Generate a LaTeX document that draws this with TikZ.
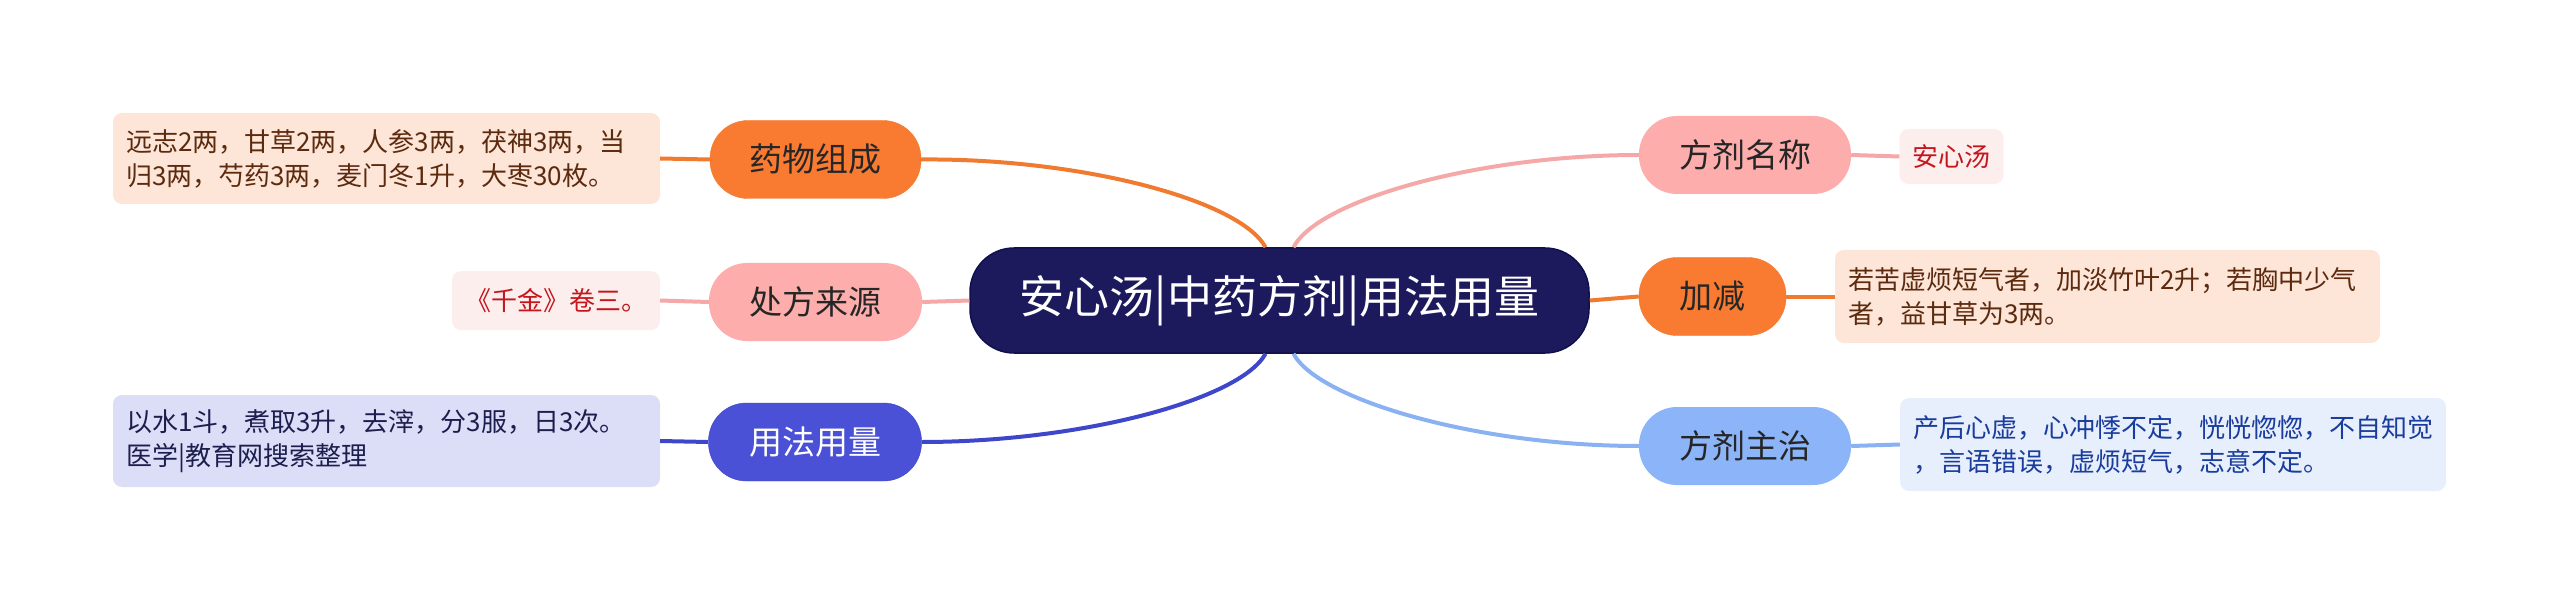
\documentclass[tikz,border=0pt]{standalone}
\usepackage{fontspec}
\setmainfont{Noto Sans CJK SC}

\definecolor{rootfill}{HTML}{1C1A5C}
\definecolor{rootline}{HTML}{10104A}
\definecolor{orangefill}{HTML}{F97B32}
\definecolor{pinkfill}{HTML}{FDAEAC}
\definecolor{bluefill}{HTML}{4A51D6}
\definecolor{skyfill}{HTML}{8CB4F8}
\definecolor{orangeleaf}{HTML}{FDE5D8}
\definecolor{pinkleaf}{HTML}{FDEEEE}
\definecolor{blueleaf}{HTML}{DCDDF7}
\definecolor{skyleaf}{HTML}{E7EFFD}
\definecolor{orangetext}{HTML}{5C2A0E}
\definecolor{pinktext}{HTML}{C4161C}
\definecolor{bluetext}{HTML}{1E1E4E}
\definecolor{skytext}{HTML}{1A3C9C}
\definecolor{orangelink}{HTML}{F07A30}
\definecolor{pinklink}{HTML}{F4A8A7}
\definecolor{bluelink}{HTML}{3E46C9}
\definecolor{skylink}{HTML}{8AB2F2}

\begin{document}
\begin{tikzpicture}[x=1pt, y=-1pt,
    root/.style={fill=rootfill, draw=rootline, line width=1.5pt, rounded corners=44pt,
      minimum width=619pt, minimum height=105pt, inner sep=0pt, text=white,
      font=\fontsize{45}{50}\selectfont},
    topic/.style={rounded corners=38pt, minimum height=78pt, inner sep=0pt,
      text=black!85, font=\fontsize{33}{38}\selectfont},
    leaf/.style={rounded corners=9pt, align=left, inner xsep=13pt, inner ysep=0pt,
      font=\fontsize{26}{34}\selectfont},
    link/.style={line width=4pt}]
    \useasboundingbox (0,0) rectangle (2560,604);

    \node[root] (root) at (1279.5,300.5) {安心汤|中药方剂|用法用量};

    \node[topic, fill=orangefill, draw=orangelink, minimum width=211pt] (zucheng) at (815.5,159.5) {药物组成};
    \node[topic, fill=pinkfill, minimum width=213pt] (laiyuan) at (815.5,302) {处方来源};
    \node[topic, fill=bluefill, draw=bluelink, minimum width=213pt, text=white] (yongfa) at (815,442) {用法用量};
    \node[topic, fill=pinkfill, minimum width=212pt] (mingcheng) at (1745,155) {方剂名称};
    \node[topic, fill=orangefill, draw=orangelink, minimum width=147pt] (jiajian) at (1712.5,296.5) {加减};
    \node[topic, fill=skyfill, minimum width=212pt] (zhuzhi) at (1745,446) {方剂主治};

    \node[leaf, fill=orangeleaf, text=orangetext, text width=521pt, minimum height=91pt] (zuchengtxt) at (386.5,158.5)
      {远志2两，甘草2两，人参3两，茯神3两，当\\归3两，芍药3两，麦门冬1升，大枣30枚。};
    \node[leaf, fill=pinkleaf, text=pinktext, minimum width=208pt, minimum height=59pt] (laiyuantxt) at (556,300.5)
      {《千金》卷三。};
    \node[leaf, fill=blueleaf, text=bluetext, text width=521pt, minimum height=92pt] (yongfatxt) at (386.5,441)
      {以水1斗，煮取3升，去滓，分3服，日3次。\\医学|教育网搜索整理};
    \node[leaf, fill=pinkleaf, text=pinktext, minimum width=103pt, minimum height=55pt] (mingchengtxt) at (1951.5,156.5)
      {安心汤};
    \node[leaf, fill=orangeleaf, text=orangetext, text width=519pt, minimum height=93pt] (jiajiantxt) at (2107.5,296.5)
      {若苦虚烦短气者，加淡竹叶2升；若胸中少气\\者，益甘草为3两。};
    \node[leaf, fill=skyleaf, text=skytext, text width=520pt, minimum height=93pt] (zhuzhitxt) at (2173,444.5)
      {产后心虚，心冲悸不定，恍恍惚惚，不自知觉\\，言语错误，虚烦短气，志意不定。};

    % root to topics
    \draw[link, orangelink] ([xshift=-14pt]root.north) .. controls (1240,200) and (1080,158) .. (zucheng.east);
    \draw[link, pinklink] ([xshift=14pt]root.north) .. controls (1318,200) and (1478,155) .. (mingcheng.west);
    \draw[link, bluelink] ([xshift=-14pt]root.south) .. controls (1240,400) and (1080,442) .. (yongfa.east);
    \draw[link, skylink] ([xshift=14pt]root.south) .. controls (1318,400) and (1478,446) .. (zhuzhi.west);
    \draw[link, pinklink] (root.west) -- (laiyuan.east);
    \draw[link, orangelink] (root.east) -- (jiajian.west);

    % topics to leaves
    \draw[link, orangelink] (zucheng.west) -- (zuchengtxt.east);
    \draw[link, pinklink] (laiyuan.west) -- (laiyuantxt.east);
    \draw[link, bluelink] (yongfa.west) -- (yongfatxt.east);
    \draw[link, pinklink] (mingcheng.east) -- (mingchengtxt.west);
    \draw[link, orangelink] (jiajian.east) -- (jiajiantxt.west);
    \draw[link, skylink] (zhuzhi.east) -- (zhuzhitxt.west);
\end{tikzpicture}
\end{document}
